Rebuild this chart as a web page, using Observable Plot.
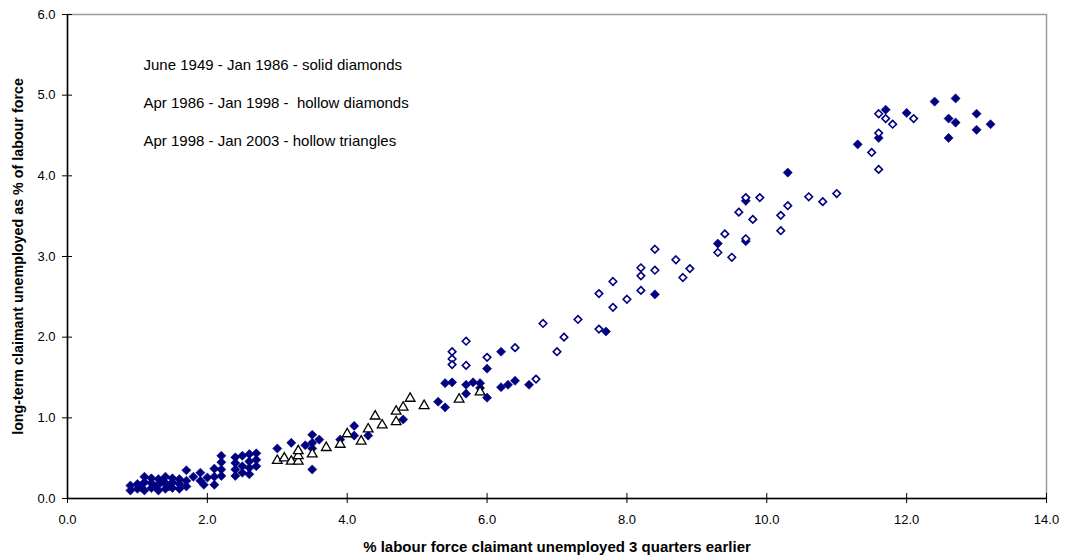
<!DOCTYPE html>
<html>
<head>
<meta charset="utf-8">
<script src="https://cdn.jsdelivr.net/npm/d3@7"></script>
<script src="https://cdn.jsdelivr.net/npm/@observablehq/plot@0.6"></script>
<style>
  html, body { margin: 0; padding: 0; background: #fff; }
  #chart { width: 1066px; height: 560px; }
</style>
</head>
<body>
<div id="chart"></div>
<script>
// June 1949 - Jan 1986 (solid diamonds)
const solidX = [0.9,0.9,1.0,1.0,1.05,1.1,1.1,1.1,1.2,1.2,1.2,1.25,1.3,1.3,1.3,1.35,1.4,1.4,1.4,1.45,1.5,1.5,1.5,1.6,1.6,1.6,1.7,1.7,1.7,
  1.8,1.9,1.9,1.95,2.0,2.1,2.1,2.1,2.2,2.2,2.2,2.2,
  2.4,2.4,2.4,2.4,2.5,2.5,2.5,2.6,2.6,2.6,2.6,2.7,2.7,2.7,
  3.0,3.2,3.4,3.5,3.5,3.5,3.5,3.6,3.9,4.1,4.1,4.3,4.8,5.3,5.4,5.4,5.5,5.7,5.7,5.8,5.9,5.9,6.0,6.0,6.2,6.2,6.3,6.4,6.6,
  7.7,8.4,9.3,9.7,9.7,10.3,11.3,11.6,11.7,12.0,12.4,12.7,12.6,12.7,12.6,13.0,13.0,13.2];
const solidY = [0.10,0.16,0.12,0.18,0.14,0.10,0.20,0.27,0.13,0.19,0.25,0.15,0.10,0.17,0.24,0.21,0.12,0.19,0.27,0.15,0.13,0.20,0.25,0.12,0.18,0.24,0.15,0.22,0.35,
  0.27,0.32,0.22,0.17,0.26,0.17,0.27,0.37,0.28,0.36,0.45,0.53,
  0.28,0.36,0.44,0.51,0.32,0.40,0.53,0.30,0.38,0.46,0.55,0.40,0.48,0.56,
  0.62,0.69,0.66,0.79,0.69,0.62,0.36,0.73,0.73,0.90,0.78,0.78,0.98,1.20,1.13,1.43,1.44,1.41,1.30,1.44,1.43,1.37,1.61,1.25,1.82,1.38,1.41,1.46,1.41,
  2.07,2.53,3.16,3.19,3.69,4.04,4.39,4.47,4.82,4.78,4.92,4.96,4.71,4.66,4.47,4.77,4.57,4.64];

// Apr 1986 - Jan 1998 (hollow diamonds)
const hollowX = [5.5,5.5,5.5,5.7,5.7,6.0,6.4,6.7,6.8,7.0,7.1,7.3,7.6,7.6,7.8,7.8,8.0,8.2,8.2,8.2,8.4,8.4,8.7,8.8,8.9,
  9.3,9.4,9.5,9.6,9.7,9.7,9.8,9.9,10.2,10.2,10.3,10.6,10.8,11.0,11.5,11.6,11.6,11.6,11.7,11.8,12.1];
const hollowY = [1.82,1.73,1.66,1.95,1.65,1.75,1.87,1.48,2.17,1.82,2.00,2.22,2.10,2.54,2.37,2.69,2.47,2.58,2.76,2.86,2.83,3.09,2.96,2.74,2.85,
  3.05,3.28,2.99,3.55,3.73,3.22,3.46,3.73,3.51,3.32,3.63,3.74,3.68,3.78,4.29,4.08,4.53,4.77,4.71,4.64,4.71];

// Apr 1998 - Jan 2003 (hollow triangles)
const triX = [3.0,3.1,3.2,3.3,3.3,3.3,3.5,3.7,3.9,4.0,4.2,4.3,4.4,4.5,4.7,4.7,4.8,4.9,5.1,5.6,5.9];
const triY = [0.47,0.50,0.46,0.46,0.53,0.59,0.55,0.63,0.67,0.80,0.71,0.86,1.02,0.91,1.08,0.95,1.13,1.24,1.15,1.23,1.32];

const xTicks = [0, 2, 4, 6, 8, 10, 12, 14];
const yTicks = [0, 1, 2, 3, 4, 5, 6];

const legendLines = [
  "June 1949 - Jan 1986 - solid diamonds",
  "Apr 1986 - Jan 1998 -  hollow diamonds",
  "Apr 1998 - Jan 2003 - hollow triangles"
];

const xTitle = "% labour force claimant unemployed 3 quarters earlier";
const yTitle = "long-term claimant unemployed as % of labour force";

const fmt = d3.format(".1f");
const navy = "#000080";

const chart = Plot.plot({
  width: 1066,
  height: 560,
  marginLeft: 67,
  marginRight: 20,
  marginTop: 14,
  marginBottom: 62,
  x: {domain: [0, 14]},
  y: {domain: [0, 6]},
  style: {
    fontFamily: "'Liberation Sans', Arial, sans-serif",
    fontSize: "13px",
    color: "#000",
    background: "#fff"
  },
  marks: [
    Plot.frame({stroke: "#9a9a9a", strokeWidth: 1.5}),
    Plot.ruleX([0], {stroke: "#000", strokeWidth: 1.5}),
    Plot.ruleY([0], {stroke: "#000", strokeWidth: 1.5}),
    // ticks cross the axis lines: outward part with labels, inward part bare
    Plot.axisX({ticks: xTicks, tickFormat: fmt, tickSize: 5, tickPadding: 11, label: null, fontSize: 13}),
    Plot.axisX({ticks: xTicks, tickFormat: () => "", tickSize: -5, label: null}),
    Plot.axisY({ticks: yTicks, tickFormat: fmt, tickSize: 5, tickPadding: 7, label: null, fontSize: 13}),
    Plot.axisY({ticks: yTicks, tickFormat: () => "", tickSize: -5, label: null}),
    Plot.dot(solidX, {x: solidX, y: solidY, symbol: "diamond2", r: 4.1, fill: navy, stroke: navy, strokeWidth: 0.6}),
    Plot.dot(hollowX, {x: hollowX, y: hollowY, symbol: "diamond2", r: 3.4, fill: "#fff", stroke: navy, strokeWidth: 1.6}),
    Plot.dot(triX, {x: triX, y: triY, symbol: "triangle", r: 3.6, fill: "#fff", stroke: "#000", strokeWidth: 1.3}),
    Plot.text([legendLines.join("\n")], {
      frameAnchor: "top-left", dx: 76, dy: 29, lineAnchor: "top",
      textAnchor: "start", lineHeight: 2.53, fontSize: 15, fill: "#000"
    }),
    Plot.text([xTitle], {
      frameAnchor: "bottom", dy: 49, lineAnchor: "middle", textAnchor: "middle",
      fontSize: 15, fontWeight: "bold", fill: "#000"
    }),
    Plot.text([yTitle], {
      frameAnchor: "left", dx: -49, rotate: -90, lineAnchor: "middle", textAnchor: "middle",
      fontSize: 14.3, fontWeight: "bold", fill: "#000"
    })
  ]
});

document.getElementById("chart").appendChild(chart);
</script>
</body>
</html>
